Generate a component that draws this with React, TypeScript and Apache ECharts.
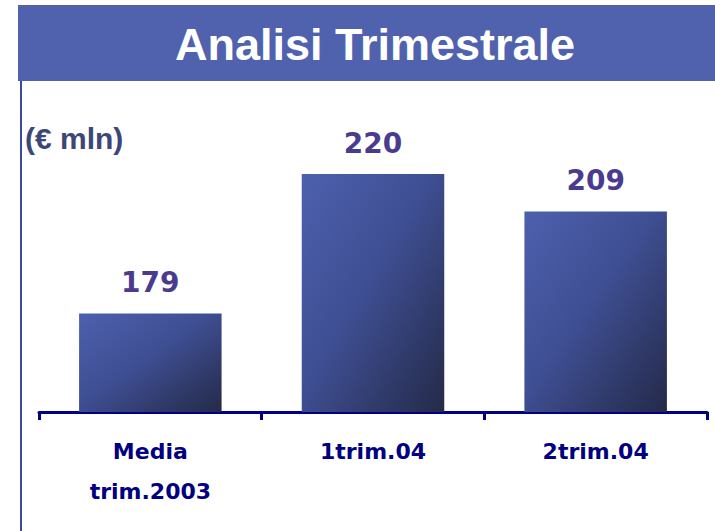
import React, { useEffect, useRef } from "react";
import * as echarts from "echarts";

const title = "Analisi Trimestrale";
const unitLabel = "(€ mln)";
const categories = ["Media\ntrim.2003", "1trim.04", "2trim.04"];
const values = [179, 220, 209];
const yMin = 150;
const yMax = 250;

export default function App() {
  const ref = useRef<HTMLDivElement>(null);
  useEffect(() => {
    if (!ref.current) return;
    const chart = echarts.init(ref.current, undefined, { renderer: "svg" });
    chart.setOption({
      animation: false,
      backgroundColor: "#ffffff",
      grid: { left: 39, right: 8, top: 72, bottom: 119, containLabel: false },
      xAxis: {
        type: "category",
        data: categories,
        axisLine: { show: true, lineStyle: { color: "#000080", width: 3 } },
        axisTick: { show: true, length: 8, lineStyle: { color: "#000080", width: 3 } },
        axisLabel: {
          margin: 19,
          color: "#000080",
          fontFamily: "DejaVu Sans",
          fontWeight: "bold",
          fontSize: 22,
          lineHeight: 40,
        },
      },
      yAxis: {
        type: "value",
        min: yMin,
        max: yMax,
        show: false,
        splitLine: { show: false },
      },
      series: [
        {
          type: "bar",
          data: values,
          barCategoryGap: "36%",
          itemStyle: {
            color: {
              type: "linear",
              x: 0,
              y: 0,
              x2: 1,
              y2: 1,
              colorStops: [
                { offset: 0, color: "#4D60AD" },
                { offset: 0.45, color: "#3F4F94" },
                { offset: 1, color: "#242A49" },
              ],
            },
          },
          label: {
            show: true,
            position: "top",
            distance: 17,
            color: "#4B3B8E",
            fontFamily: "DejaVu Sans",
            fontWeight: "bold",
            fontSize: 28,
          },
        },
      ],
      graphic: [
        {
          type: "rect",
          shape: { x: 18, y: 5, width: 697, height: 76 },
          style: { fill: "#5062AE" },
          z: 10,
        },
        {
          type: "rect",
          shape: { x: 20, y: 81, width: 2, height: 450 },
          style: { fill: "#3E47A6" },
          z: 10,
        },
        {
          type: "text",
          x: 375,
          y: 44,
          z: 12,
          style: {
            text: title,
            fill: "#ffffff",
            fontFamily: "Liberation Sans",
            fontWeight: "bold",
            fontSize: 45,
            textAlign: "center",
            textVerticalAlign: "middle",
            shadowColor: "#111122",
            shadowBlur: 1,
            shadowOffsetX: 2,
            shadowOffsetY: 2,
          },
        },
        {
          type: "text",
          x: 25,
          y: 138,
          z: 11,
          style: {
            text: unitLabel,
            fill: "#3C4677",
            fontFamily: "Liberation Sans",
            fontWeight: "bold",
            fontSize: 30,
            textAlign: "left",
            textVerticalAlign: "middle",
          },
        },
      ],
    });
    return () => chart.dispose();
  }, []);
  return (
    <div
      ref={ref}
      style={{ position: "fixed", left: 0, top: 0, width: 715, height: 531 }}
    />
  );
}
